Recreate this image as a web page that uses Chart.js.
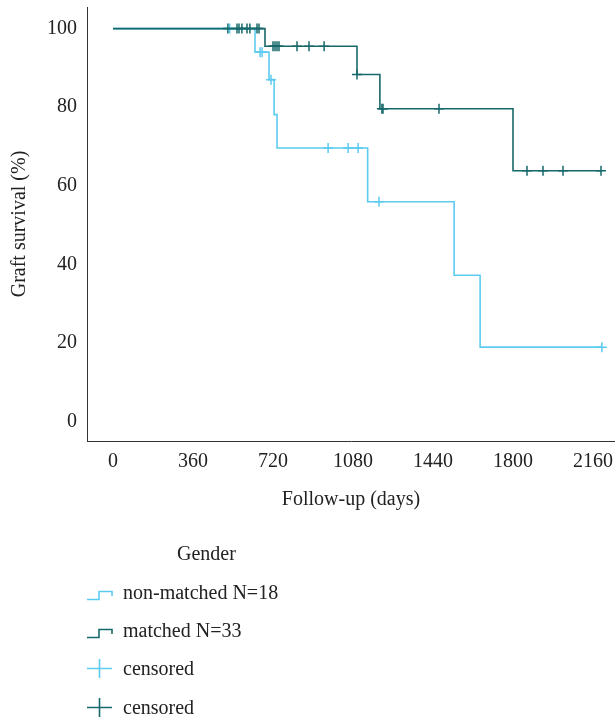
<!DOCTYPE html>
<html>
<head>
<meta charset="utf-8">
<script src="https://cdn.jsdelivr.net/npm/chart.js@4.4.1/dist/chart.umd.min.js"></script>
<style>
  html, body { margin: 0; padding: 0; background: #fff; }
  #wrap { position: relative; width: 615px; height: 718px; }
  #legend { position: absolute; left: 0; top: 0; width: 615px; height: 718px; pointer-events: none;
            font-family: "Liberation Serif", serif; font-size: 20px; color: #222; }
  .lg-title { position: absolute; left: 177px; top: 540px; line-height: 26px; }
  .lg-item { position: absolute; left: 86px; height: 26px; line-height: 26px; white-space: nowrap; }
  .lg-item svg { position: absolute; left: 0; top: 1px; }
  .lg-item span { position: absolute; left: 37px; top: 0; }
</style>
</head>
<body>
<div id="wrap">
  <canvas id="myChart" width="615" height="718"></canvas>
  <div id="legend"></div>
</div>
<script>
// axis ticks
const xTicks = [0, 360, 720, 1080, 1440, 1800, 2160]
const yTicks = [0, 20, 40, 60, 80, 100]

// Kaplan-Meier steps (days, survival %)
const nonMatchedTime = [0, 639, 702, 725, 738, 1146, 1535, 1652, 2200]
const nonMatchedSurv = [100, 94.0, 87.0, 78.1, 69.6, 55.9, 37.2, 18.9, 18.9]
const matchedTime = [0, 684, 1098, 1201, 1800, 2200]
const matchedSurv = [100, 95.5, 88.3, 79.6, 63.8, 63.8]

// censored marks
const nonMatchedCensTime = [525, 662, 671, 711, 968, 1058, 1103, 1197, 2200]
const nonMatchedCensSurv = [100, 94.0, 94.0, 87.0, 69.6, 69.6, 69.6, 55.9, 18.9]
const matchedCensTime = [517, 558, 567, 580, 603, 616, 648, 657, 720, 729, 738, 747, 828, 882, 950, 1098, 1210, 1215, 1467, 1863, 1935, 2025, 2196]
const matchedCensSurv = [100, 100, 100, 100, 100, 100, 100, 100, 95.5, 95.5, 95.5, 95.5, 95.5, 95.5, 95.5, 88.3, 79.6, 79.6, 79.6, 63.8, 63.8, 63.8, 63.8]

const legendTitle = "Gender"
const labels = ["non-matched N=18", "matched N=33", "censored", "censored"]

const lightColor = "#5ccbf0"
const darkColor = "#17686a"
const font = "'Liberation Serif', serif"

const toPts = (xs, ys) => xs.map((x, i) => ({x: x, y: ys[i]}))

const data = {
  datasets: [
    {
      label: labels[1], type: "line", data: toPts(matchedTime, matchedSurv),
      borderColor: darkColor, borderWidth: 1.6, stepped: "before", pointRadius: 0, order: 1
    },
    {
      label: labels[3], type: "scatter", data: toPts(matchedCensTime, matchedCensSurv),
      borderColor: darkColor, backgroundColor: darkColor, pointStyle: "cross", pointRadius: 5,
      borderWidth: 1.5, showLine: false, order: 0
    },
    {
      label: labels[0], type: "line", data: toPts(nonMatchedTime, nonMatchedSurv),
      borderColor: lightColor, borderWidth: 1.6, stepped: "before", pointRadius: 0, order: 3
    },
    {
      label: labels[2], type: "scatter", data: toPts(nonMatchedCensTime, nonMatchedCensSurv),
      borderColor: lightColor, backgroundColor: lightColor, pointStyle: "cross", pointRadius: 5,
      borderWidth: 1.5, showLine: false, order: 2
    }
  ]
}

const config = {
  type: "line",
  data: data,
  options: {
    responsive: false,
    animation: false,
    events: [],
    layout: { autoPadding: false, padding: { top: 7, left: 0, right: 0, bottom: 206 } },
    plugins: { legend: { display: false }, tooltip: { enabled: false } },
    scales: {
      x: {
        type: "linear", min: -117, max: 2259,
        afterBuildTicks: (s) => { s.ticks = xTicks.map(v => ({value: v})) },
        afterFit: (s) => { s.height = 71; s.paddingLeft = 0; s.paddingRight = 0 },
        grid: { display: false, drawTicks: false },
        border: { display: true, color: "#333", width: 1 },
        ticks: { padding: 9, color: "#222", font: { family: font, size: 20 }, maxRotation: 0,
                 callback: (v) => String(v) },
        title: { display: true, text: "Follow-up (days)", color: "#222", padding: 0,
                 font: { family: font, size: 20 } }
      },
      y: {
        type: "linear", min: -5, max: 105.5,
        afterBuildTicks: (s) => { s.ticks = yTicks.map(v => ({value: v})) },
        afterFit: (s) => { s.width = 87; s.paddingTop = 0; s.paddingBottom = 0 },
        grid: { display: false, drawTicks: false },
        border: { display: true, color: "#333", width: 1 },
        ticks: { padding: 10, color: "#222", font: { family: font, size: 20 },
                 callback: (v) => String(v) },
        title: { display: true, text: "Graft survival (%)", color: "#222", padding: { top: 8, bottom: 0 },
                 font: { family: font, size: 20 } }
      }
    }
  }
}

const myChart = new Chart(document.getElementById("myChart"), config)

// html legend below the plot
const legend = document.getElementById("legend")
const stepIcon = (c) => `<svg width="28" height="24"><path d="M1 19.5 H13 V11.5 H26 V16" fill="none" stroke="${c}" stroke-width="1.6"/></svg>`
const crossIcon = (c) => `<svg width="28" height="24"><path d="M1 12.5 H26 M13.5 3 V22" fill="none" stroke="${c}" stroke-width="1.6"/></svg>`
const icons = [stepIcon(lightColor), stepIcon(darkColor), crossIcon(lightColor), crossIcon(darkColor)]
const itemTops = [579, 617, 655, 694]

let html = `<div class="lg-title">${legendTitle}</div>`
for (let i = 0; i < labels.length; i++) {
  html = html + `<div class="lg-item" style="top:${itemTops[i]}px">${icons[i]}<span>${labels[i]}</span></div>`
}
legend.innerHTML = html
</script>
</body>
</html>
